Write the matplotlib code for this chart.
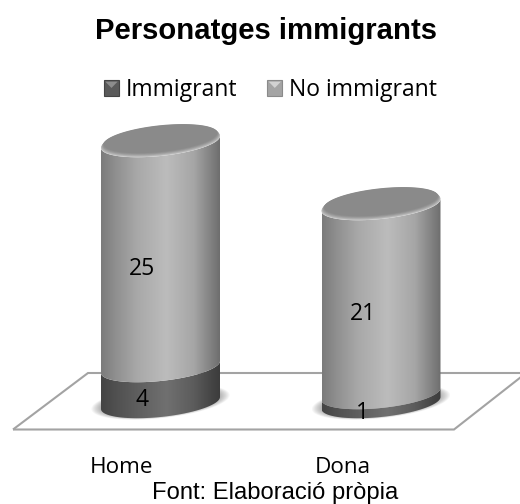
import numpy as np
import matplotlib
matplotlib.use("Agg")
import matplotlib.pyplot as plt
from matplotlib.colors import LinearSegmentedColormap
from matplotlib.patches import Polygon, Rectangle
from matplotlib.legend_handler import HandlerBase

categories = ["Home", "Dona"]
series_names = ["Immigrant", "No immigrant"]
immigrant = [4, 1]
no_immigrant = [25, 21]
title = "Personatges immigrants"
source = "Font: Elaboració pròpia"

W, H = 520, 504
CAT_PX = 220.5      # pixels per category
UNIT_PX = 9.0       # pixels per value unit
X0, Y0 = 160.5, 403 # pixel position of first category at value 0
A, B, TILT = 59.5, 14.0, 6.0

fig = plt.figure(figsize=(W / 100, H / 100), dpi=100, facecolor="white")
ax = fig.add_axes([0, 0, 1, 1])
ax.set_xlim(-X0 / CAT_PX, (W - X0) / CAT_PX)
ax.set_ylim((Y0 - H) / UNIT_PX, Y0 / UNIT_PX)
ax.axis("off")
ax.set_autoscale_on(False)

def dx(p): return p / CAT_PX
def dy(p): return -p / UNIT_PX
def vx(p): return (p - X0) / CAT_PX
def vy(p): return (Y0 - p) / UNIT_PX

def ellipse(cat, val, t, scale=1.0, shift=0.0):
    x = cat + dx(A * scale * np.cos(t))
    y = val + dy(-TILT * scale * np.cos(t) + B * scale * np.sin(t) + shift)
    return np.column_stack([x, y])

FRONT = np.linspace(0, np.pi, 80)      # right -> front -> left
FULL = np.linspace(0, 2 * np.pi, 160)

def cmap_of(cols):
    return LinearSegmentedColormap.from_list("c", list(zip([0, .12, .3, .55, .78, .93, 1], cols)))

LIGHT = cmap_of(["#7b7b7b", "#8f8f8f", "#a8a8a8", "#bcbcbc", "#a6a6a6", "#808080", "#6e6e6e"])
DARK = cmap_of(["#444444", "#505050", "#5e5e5e", "#707070", "#5c5c5c", "#454545", "#3c3c3c"])
grad = np.linspace(0, 1, 256)[None, :]

# floor
ax.add_patch(Polygon([[vx(13), vy(429.5)], [vx(454), vy(429.5)], [vx(521), vy(377)]],
                     closed=False, fill=False, ec="#a3a3a3", lw=1.5, zorder=1))
ax.add_patch(Polygon([[vx(13), vy(429.5)], [vx(88), vy(373)], [vx(521), vy(373)]],
                     closed=False, fill=False, ec="#a3a3a3", lw=1.5, zorder=1))

def body(cat, v0, v1, cmap, z):
    low = ellipse(cat, v0, FRONT)
    up = ellipse(cat, v1, FRONT)[::-1]
    poly = Polygon(np.vstack([low, up]), closed=True, transform=ax.transData, fc="none", ec="none")
    ax.add_patch(poly)
    im = ax.imshow(grad, cmap=cmap, aspect="auto", zorder=z, interpolation="bilinear",
                   extent=[cat - dx(A), cat + dx(A), v0 - 3, v1 + 3], vmin=0, vmax=1)
    im.set_clip_path(poly)

for i in range(len(categories)):
    # soft shadow below the cylinder
    for s in np.linspace(1.16, 1.0, 10):
        pts = ellipse(i, 0, FULL, scale=s, shift=-1)
        ax.add_patch(Polygon(pts, closed=True, fc="#505050", ec="none", alpha=0.05, zorder=2))
    top = immigrant[i] + no_immigrant[i]
    body(i, 0, immigrant[i], DARK, 3)
    body(i, immigrant[i], top, LIGHT, 4)
    # top face with light bevel
    ax.add_patch(Polygon(ellipse(i, top, FULL), closed=True, fc="#c4c4c4", ec="none", zorder=5))
    for s, sh, c in zip([.995, .985, .975, .965, .955], [-.7, -1.4, -2.1, -2.8, -3.4],
                        ["#b4b4b4", "#a6a6a6", "#999999", "#909090", "#8a8a8a"]):
        ax.add_patch(Polygon(ellipse(i, top, FULL, scale=s, shift=sh), closed=True, fc=c, ec="none", zorder=5))
    # value labels
    for val, base in ((immigrant[i], 0), (no_immigrant[i], immigrant[i])):
        ax.text(i + dx(-18.5), base + val / 2 + dy(14.5), str(val), ha="center", va="center",
                fontsize=16.5, family="Open Sans", color="#000000", zorder=8)
    ax.text(i + dx(-38.5), vy(467.5), categories[i], ha="center", va="center",
            fontsize=16.2, family="Open Sans", color="#000000", zorder=8)

ax.text(vx(266.5), vy(31), title, ha="center", va="center", fontsize=21.1,
        family="Liberation Sans", weight="bold", color="#000000")
ax.text(vx(275), vy(493), source, ha="center", va="center", fontsize=17.1,
        family="Liberation Sans", color="#000000")

class Bevel(HandlerBase):
    def __init__(self, base, edge, tri):
        super().__init__()
        self.c = (base, edge, tri)
    def create_artists(self, legend, orig, xd, yd, w, h, fs, trans):
        b, e, t = self.c
        r = Rectangle((-xd, -yd), w, h, fc=b, ec=e, lw=.8, transform=trans)
        p = Polygon([[-xd + 1, -yd + h - 1], [-xd + w - 1, -yd + h - 1], [-xd + w / 2, -yd + h / 2]],
                    closed=True, fc=t, ec="none", transform=trans)
        return [r, p]

h1 = Rectangle((0, 0), 1, 1)
h2 = Rectangle((0, 0), 1, 1)
leg = ax.legend([h1, h2], series_names, loc="center", bbox_to_anchor=(270.5 / W, 1 - 90 / H), ncol=2,
                frameon=False, prop={"family": "Open Sans", "size": 16.5},
                handler_map={h1: Bevel("#5a5a5a", "#444444", "#8c8c8c"), h2: Bevel("#a4a4a4", "#8a8a8a", "#d2d2d2")},
                handlelength=0.66, handleheight=0.66, handletextpad=0.3, columnspacing=1.3,
                borderpad=0, labelspacing=0)

fig.savefig("out.png", dpi=100)
